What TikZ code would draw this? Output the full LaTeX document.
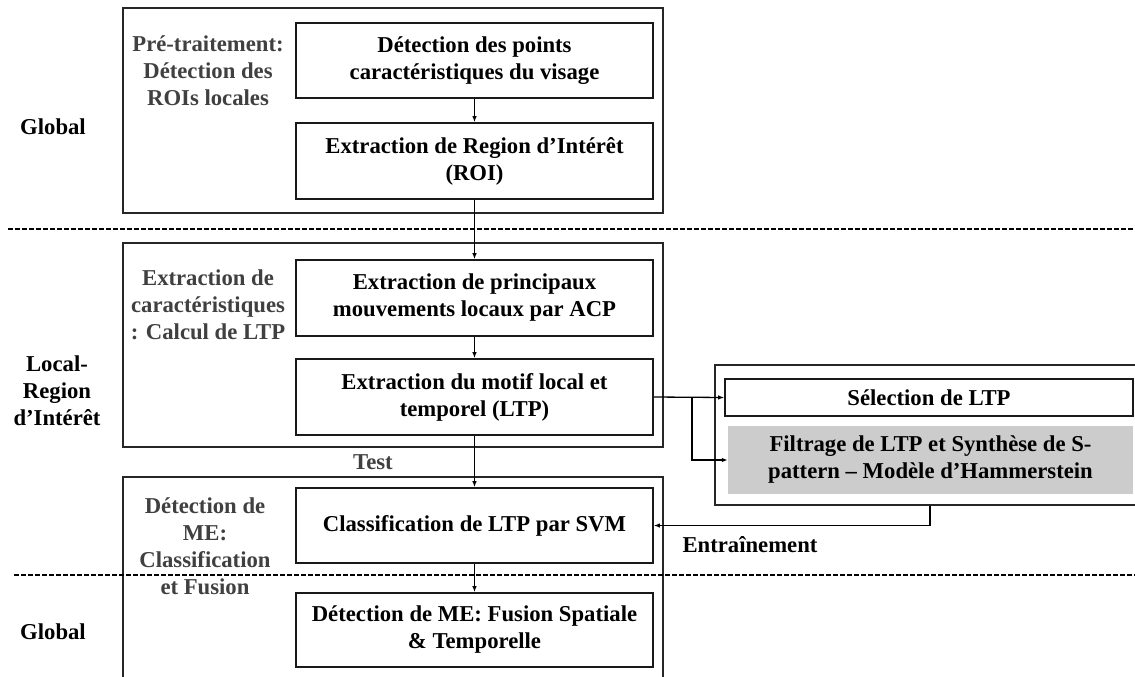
\documentclass[tikz,border=0pt]{standalone}
\usepackage{fontspec}
\setmainfont{Liberation Serif}
\usetikzlibrary{arrows.meta}
\definecolor{grouptxt}{HTML}{404040}
\definecolor{boxfill}{HTML}{CCCCCC}
\begin{document}
\begin{tikzpicture}[x=1pt,y=-1pt,
  txt/.style={font=\fontsize{22.7}{27}\selectfont\bfseries, align=center, inner sep=0pt},
  stepbox/.style={txt, draw=black!90, line width=1.6pt, minimum width=357pt, minimum height=76pt},
  groupbox/.style={draw=black!85, line width=1.6pt, inner sep=0pt},
  grouplbl/.style={txt, text=grouptxt},
  sidelbl/.style={txt, text=black},
  arr/.style={line width=1.3pt, -{Latex[length=6pt,width=4.5pt]}},
  sep/.style={line width=1.1pt, dash pattern=on 4.5pt off 2.5pt}]
\path[use as bounding box] (0,0) rectangle (1135,677);
\clip (0,0) rectangle (1135,677);
% group frames
\node[groupbox, minimum width=540pt, minimum height=205pt] (g1) at (393,110.5) {};
\node[groupbox, minimum width=540pt, minimum height=204pt] (g2) at (393,345) {};
\node[groupbox, minimum width=540pt, minimum height=230pt] (g3) at (393,592) {};
\node[groupbox, minimum width=430pt, minimum height=140pt] (r) at (930,435) {};
% separators
\draw[sep] (8,229) -- (1135,229);
\draw[sep] (14,575) -- (1135,575);
% step boxes
\node[stepbox, minimum height=75pt] (b1) at (474.5,60.5) {Détection des points\\caractéristiques du visage};
\node[stepbox] (b2) at (474.5,161) {Extraction de Region d’Intérêt\\(ROI)};
\node[stepbox] (b3) at (474.5,298) {Extraction de principaux\\mouvements locaux par ACP};
\node[stepbox] (b4) at (474.5,397) {Extraction du motif local et\\temporel (LTP)};
\node[stepbox, minimum height=75pt] (b5) at (474.5,525.5) {Classification de LTP par SVM};
\node[stepbox, minimum height=74pt] (b6) at (474.5,630) {Détection de ME: Fusion Spatiale\\\& Temporelle};
\node[stepbox, minimum width=408pt, minimum height=37pt] (sel) at (929,397.5) {Sélection de LTP};
\node[txt, fill=boxfill, minimum width=405pt, minimum height=68pt] (filt) at (930.5,460) {Filtrage de LTP et Synthèse de S-\\pattern – Modèle d’Hammerstein};
% group labels
\node[grouplbl] (gl1) at (208,71) {Pré-traitement:\\Détection des\\ROIs locales};
\node[grouplbl] (gl2) at (208,305) {Extraction de\\caractéristiques\\: Calcul de LTP};
\node[grouplbl] (gl3) at (205,546.5) {Détection de\\ME:\\Classification\\et Fusion};
% side labels
\node[sidelbl] (s1) at (53,127) {Global};
\node[sidelbl] (s2) at (57,391) {Local-\\Region\\d’Intérêt};
\node[sidelbl] (s3) at (53,632) {Global};
% connector labels
\node[grouplbl] (test) at (373,462) {Test};
\node[sidelbl] (train) at (750,545) {Entraînement};
% connectors
\draw[arr] (b1) -- (b2);
\draw[arr] (b2) -- (b3);
\draw[arr] (b3) -- (b4);
\draw[arr] (b4) -- (b5);
\draw[arr] (b5) -- (b6);
\draw[arr] (b4.east) -- (sel.west);
\coordinate (br) at (692,397);
\draw[arr] (br) |- (filt.west);
\draw[arr] (r.south) |- (b5.east);
\end{tikzpicture}
\end{document}
